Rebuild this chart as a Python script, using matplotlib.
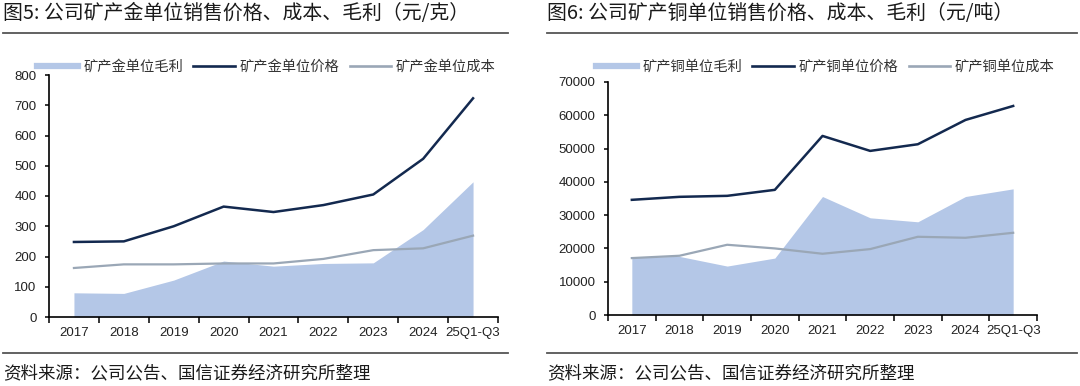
"""Unit price, cost and gross profit of the company's mined gold and copper."""

import matplotlib

matplotlib.use("Agg")
import matplotlib.pyplot as plt
from matplotlib.lines import Line2D

CATEGORIES = ["2017", "2018", "2019", "2020", "2021", "2022", "2023", "2024", "25Q1-Q3"]

# gold, yuan per gram
GOLD_PRICE = [248, 250, 300, 365, 347, 370, 405, 523, 723]
GOLD_COST = [162, 174, 174, 177, 177, 192, 221, 227, 269]
GOLD_PROFIT = [80, 78, 122, 185, 168, 177, 179, 289, 447]

# copper, yuan per tonne
COPPER_PRICE = [34600, 35500, 35800, 37600, 53800, 49300, 51300, 58600, 62800]
COPPER_COST = [17100, 17800, 21100, 20000, 18400, 19800, 23500, 23200, 24700]
COPPER_PROFIT = [17400, 17600, 14700, 17100, 35600, 29200, 28000, 35600, 37900]

W, H = 1080, 386
FILL_COLOR = "#b4c7e7"
PRICE_COLOR = "#13294f"
COST_COLOR = "#9aa7b6"
CJK = ["Noto Sans CJK SC", "DejaVu Sans"]
NUM = ["Liberation Sans", "DejaVu Sans"]


def fx(px):
    return px / W


def fy(py):
    return 1 - py / H


def _panel(fig, box, price, cost, profit, ymax, step, names, title, title_x, rule):
    left, right, top, bottom = box
    ax = fig.add_axes([fx(left), fy(bottom), fx(right - left), fy(top) - fy(bottom)])
    x = list(range(len(CATEGORIES)))
    ax.fill_between(x, 0, profit, color=FILL_COLOR, lw=0, zorder=1)
    ax.plot(x, cost, color=COST_COLOR, lw=1.6, zorder=2)
    ax.plot(x, price, color=PRICE_COLOR, lw=1.8, zorder=3)

    ax.set_xlim(-0.5, len(CATEGORIES) - 0.5)
    ax.set_ylim(0, ymax)
    ax.set_yticks(range(0, ymax + 1, step))
    ax.set_xticks(x)
    ax.set_xticklabels(CATEGORIES)
    ax.set_xticks([i - 0.5 for i in range(len(CATEGORIES) + 1)], minor=True)
    ax.tick_params(axis="x", which="major", length=0, pad=7)
    ax.tick_params(axis="x", which="minor", length=4, width=1.1, direction="out")
    ax.tick_params(axis="y", length=3, width=1.1, direction="out", pad=6)
    for label in ax.get_xticklabels() + ax.get_yticklabels():
        label.set_family(NUM)
        label.set_fontsize(9.5)
        label.set_color("#222222")
    for side in ("top", "right"):
        ax.spines[side].set_visible(False)
    for side in ("left", "bottom"):
        ax.spines[side].set_linewidth(1.2)

    handles = [
        Line2D([], [], color=FILL_COLOR, lw=4.5),
        Line2D([], [], color=PRICE_COLOR, lw=1.9),
        Line2D([], [], color=COST_COLOR, lw=1.9),
    ]
    fig.legend(handles, names, loc="center left",
               bbox_to_anchor=(fx(left - 12), fy(67)), ncol=3, frameon=False,
               handlelength=2.9, handletextpad=0.35, columnspacing=0.7,
               borderpad=0, borderaxespad=0,
               prop={"family": CJK, "size": 10.3}, labelcolor="#333333")

    fig.text(fx(title_x), fy(14), title, family=CJK, fontsize=14.3,
             weight="medium", color="#1a1a1a", va="center", ha="left")
    fig.text(fx(title_x), fy(373), "资料来源：公司公告、国信证券经济研究所整理",
             family=CJK, fontsize=12.6, color="#1a1a1a", va="center", ha="left")
    for y in (33, 353):
        fig.add_artist(Line2D([fx(rule[0]), fx(rule[1])], [fy(y), fy(y)],
                              transform=fig.transFigure, color="#555555", lw=1.3))
    return ax


def main():
    fig = plt.figure(figsize=(W / 100, H / 100), dpi=100)
    _panel(fig, (49, 498, 75, 317), GOLD_PRICE, GOLD_COST, GOLD_PROFIT, 800, 100,
           ["矿产金单位毛利", "矿产金单位价格", "矿产金单位成本"],
           "图5: 公司矿产金单位销售价格、成本、毛利（元/克）", 3, (3, 508))
    _panel(fig, (608, 1037, 82, 315), COPPER_PRICE, COPPER_COST, COPPER_PROFIT,
           70000, 10000,
           ["矿产铜单位毛利", "矿产铜单位价格", "矿产铜单位成本"],
           "图6: 公司矿产铜单位销售价格、成本、毛利（元/吨）", 547, (547, 1077))
    fig.savefig("out.png", dpi=100)


if __name__ == "__main__":
    main()
